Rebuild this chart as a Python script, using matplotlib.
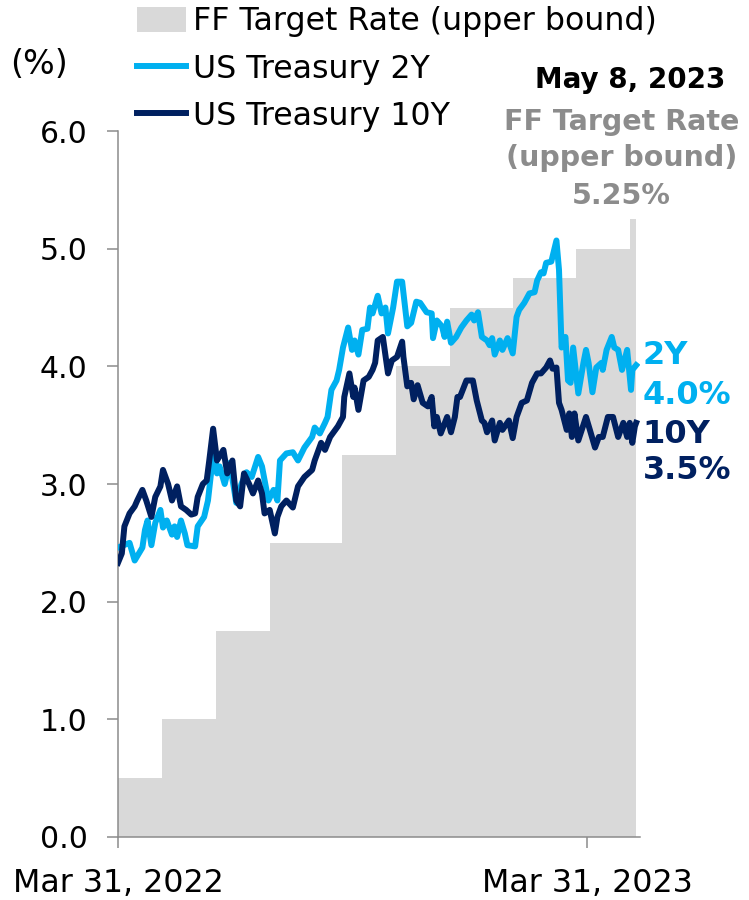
import numpy as np
import pandas as pd
import matplotlib
matplotlib.use("Agg")
import matplotlib.pyplot as plt
from matplotlib.patches import Patch
from matplotlib.lines import Line2D

plt.rcParams['font.family'] = ['DejaVu Sans']

# FF target rate (upper bound), step changes at FOMC decisions
ff_dates = ['2022-03-31', '2022-05-04', '2022-06-15', '2022-07-27', '2022-09-21',
            '2022-11-02', '2022-12-14', '2023-02-01', '2023-03-22', '2023-05-03',
            '2023-05-08']
ff_rate = [0.50, 1.00, 1.75, 2.50, 3.25, 4.00, 4.50, 4.75, 5.00, 5.25, 5.25]

# US Treasury 2Y yield (%)
dates_2y = ['2022-03-31', '2022-04-09', '2022-04-13', '2022-04-19', '2022-04-21',
            '2022-04-23', '2022-04-26', '2022-04-29', '2022-05-03', '2022-05-05',
            '2022-05-08', '2022-05-12', '2022-05-14', '2022-05-16', '2022-05-19',
            '2022-05-22', '2022-05-24', '2022-05-30', '2022-06-01', '2022-06-06',
            '2022-06-09', '2022-06-12', '2022-06-14', '2022-06-16', '2022-06-18',
            '2022-06-22', '2022-06-26', '2022-07-01', '2022-07-05', '2022-07-09',
            '2022-07-13', '2022-07-18', '2022-07-21', '2022-07-26', '2022-07-30',
            '2022-08-02', '2022-08-04', '2022-08-09', '2022-08-14', '2022-08-18',
            '2022-08-23', '2022-08-29', '2022-08-31', '2022-09-04', '2022-09-08',
            '2022-09-10', '2022-09-13', '2022-09-17', '2022-09-19', '2022-09-22',
            '2022-09-26', '2022-09-29', '2022-10-01', '2022-10-04', '2022-10-07',
            '2022-10-11', '2022-10-13', '2022-10-15', '2022-10-19', '2022-10-22',
            '2022-10-25', '2022-10-27', '2022-10-31', '2022-11-03', '2022-11-07',
            '2022-11-11', '2022-11-14', '2022-11-18', '2022-11-21', '2022-11-26',
            '2022-11-30', '2022-12-01', '2022-12-04', '2022-12-08', '2022-12-10',
            '2022-12-12', '2022-12-15', '2022-12-19', '2022-12-23', '2022-12-27',
            '2022-12-31', '2023-01-02', '2023-01-05', '2023-01-08', '2023-01-12',
            '2023-01-14', '2023-01-16', '2023-01-18', '2023-01-22', '2023-01-24',
            '2023-01-28', '2023-02-01', '2023-02-04', '2023-02-06', '2023-02-10',
            '2023-02-14', '2023-02-18', '2023-02-20', '2023-02-23', '2023-02-25',
            '2023-02-27', '2023-03-03', '2023-03-07', '2023-03-09', '2023-03-11',
            '2023-03-14', '2023-03-16', '2023-03-18', '2023-03-20', '2023-03-24',
            '2023-03-28', '2023-03-30', '2023-04-01', '2023-04-04', '2023-04-07',
            '2023-04-11', '2023-04-12', '2023-04-15', '2023-04-19', '2023-04-21',
            '2023-04-24', '2023-04-27', '2023-05-01', '2023-05-04', '2023-05-05',
            '2023-05-08']
yield_2y = [2.46, 2.50, 2.35, 2.46, 2.61, 2.69, 2.48, 2.67, 2.78, 2.63,
            2.69, 2.57, 2.64, 2.55, 2.69, 2.58, 2.48, 2.47, 2.64, 2.72,
            2.86, 3.15, 3.29, 3.09, 3.15, 3.00, 3.18, 2.84, 3.00, 3.10,
            3.06, 3.23, 3.15, 2.86, 2.95, 2.86, 3.20, 3.26, 3.27, 3.20,
            3.31, 3.40, 3.48, 3.43, 3.52, 3.57, 3.80, 3.88, 3.97, 4.16,
            4.33, 4.14, 4.22, 4.10, 4.31, 4.32, 4.50, 4.45, 4.60, 4.45,
            4.50, 4.28, 4.50, 4.72, 4.72, 4.34, 4.37, 4.55, 4.54, 4.46,
            4.45, 4.24, 4.39, 4.34, 4.25, 4.38, 4.20, 4.25, 4.33, 4.39,
            4.44, 4.39, 4.46, 4.25, 4.22, 4.18, 4.24, 4.10, 4.22, 4.14,
            4.24, 4.11, 4.42, 4.48, 4.54, 4.62, 4.63, 4.73, 4.80, 4.79,
            4.88, 4.89, 5.07, 4.82, 4.16, 4.25, 3.88, 3.86, 4.16, 3.77,
            4.03, 4.14, 4.03, 3.78, 3.99, 4.03, 3.97, 4.14, 4.25, 4.16,
            4.14, 3.97, 4.14, 3.80, 3.97, 4.01]

# US Treasury 10Y yield (%)
dates_10y = ['2022-03-31', '2022-04-03', '2022-04-05', '2022-04-09', '2022-04-13',
             '2022-04-15', '2022-04-19', '2022-04-22', '2022-04-26', '2022-04-29',
             '2022-05-03', '2022-05-05', '2022-05-09', '2022-05-12', '2022-05-16',
             '2022-05-19', '2022-05-23', '2022-05-27', '2022-05-30', '2022-06-01',
             '2022-06-05', '2022-06-08', '2022-06-10', '2022-06-13', '2022-06-16',
             '2022-06-21', '2022-06-24', '2022-06-28', '2022-07-01', '2022-07-04',
             '2022-07-07', '2022-07-11', '2022-07-14', '2022-07-18', '2022-07-21',
             '2022-07-23', '2022-07-27', '2022-07-31', '2022-08-02', '2022-08-05',
             '2022-08-09', '2022-08-14', '2022-08-18', '2022-08-23', '2022-08-29',
             '2022-08-31', '2022-09-05', '2022-09-08', '2022-09-12', '2022-09-18',
             '2022-09-22', '2022-09-23', '2022-09-27', '2022-09-30', '2022-10-01',
             '2022-10-04', '2022-10-08', '2022-10-12', '2022-10-15', '2022-10-17',
             '2022-10-19', '2022-10-23', '2022-10-27', '2022-10-30', '2022-11-03',
             '2022-11-07', '2022-11-08', '2022-11-11', '2022-11-14', '2022-11-16',
             '2022-11-19', '2022-11-23', '2022-11-27', '2022-11-30', '2022-12-02',
             '2022-12-04', '2022-12-07', '2022-12-12', '2022-12-15', '2022-12-18',
             '2022-12-20', '2022-12-22', '2022-12-27', '2023-01-01', '2023-01-04',
             '2023-01-08', '2023-01-10', '2023-01-12', '2023-01-16', '2023-01-18',
             '2023-01-22', '2023-01-24', '2023-01-29', '2023-02-01', '2023-02-04',
             '2023-02-08', '2023-02-12', '2023-02-16', '2023-02-20', '2023-02-23',
             '2023-02-27', '2023-03-02', '2023-03-04', '2023-03-07', '2023-03-09',
             '2023-03-11', '2023-03-15', '2023-03-17', '2023-03-19', '2023-03-21',
             '2023-03-24', '2023-03-30', '2023-04-02', '2023-04-06', '2023-04-09',
             '2023-04-12', '2023-04-16', '2023-04-20', '2023-04-24', '2023-04-28',
             '2023-05-01', '2023-05-03', '2023-05-05', '2023-05-07', '2023-05-08']
yield_10y = [2.33, 2.41, 2.64, 2.75, 2.81, 2.86, 2.95, 2.86, 2.72, 2.89,
             2.98, 3.12, 3.00, 2.86, 2.98, 2.81, 2.78, 2.74, 2.75, 2.89,
             3.00, 3.03, 3.20, 3.47, 3.20, 3.29, 3.09, 3.20, 2.86, 2.81,
             3.09, 3.00, 2.92, 3.03, 2.92, 2.75, 2.78, 2.58, 2.72, 2.81,
             2.86, 2.80, 2.98, 3.06, 3.12, 3.20, 3.35, 3.29, 3.40, 3.49,
             3.57, 3.74, 3.94, 3.74, 3.82, 3.63, 3.88, 3.91, 3.97, 4.03,
             4.22, 4.25, 3.94, 4.05, 4.08, 4.21, 4.08, 3.83, 3.86, 3.72,
             3.84, 3.69, 3.66, 3.74, 3.49, 3.57, 3.43, 3.57, 3.44, 3.57,
             3.74, 3.74, 3.88, 3.88, 3.71, 3.54, 3.52, 3.44, 3.54, 3.37,
             3.52, 3.46, 3.54, 3.39, 3.57, 3.69, 3.71, 3.86, 3.94, 3.94,
             3.99, 4.05, 3.98, 3.99, 3.69, 3.63, 3.46, 3.60, 3.40, 3.60,
             3.37, 3.57, 3.46, 3.31, 3.40, 3.40, 3.57, 3.57, 3.40, 3.52,
             3.40, 3.52, 3.35, 3.49, 3.52]

C_FF = '#D9D9D9'
C_2Y = '#00B0F0'
C_10Y = '#002060'
C_GREY_TXT = '#8C8C8C'
C_AXIS = '#8C8C8C'
LW = 4.3

fig = plt.figure(figsize=(7.49, 9.0), dpi=100)
ax = fig.add_axes([0.1575, 0.07, 0.697, 0.7844])

ax.fill_between(pd.to_datetime(ff_dates), ff_rate, step='post',
                color=C_FF, linewidth=0, zorder=1)
ax.plot(pd.to_datetime(dates_2y), yield_2y, color=C_2Y, lw=LW, zorder=3,
        solid_joinstyle='round')
ax.plot(pd.to_datetime(dates_10y), yield_10y, color=C_10Y, lw=LW, zorder=4,
        solid_joinstyle='round')

ax.set_ylim(0, 6)
ax.set_yticks(np.arange(0, 6.1, 1.0))
ax.set_yticklabels([f"{v:.1f}" for v in np.arange(0, 6.1, 1.0)])
ax.set_xlim(pd.Timestamp('2022-03-31'), pd.Timestamp('2023-05-11'))
ax.set_xticks([pd.Timestamp('2022-03-31'), pd.Timestamp('2023-03-31')])
ax.set_xticklabels(['Mar 31, 2022', 'Mar 31, 2023'])

for s in ['top', 'right']:
    ax.spines[s].set_visible(False)
for s in ['left', 'bottom']:
    ax.spines[s].set_color(C_AXIS)
    ax.spines[s].set_linewidth(1.1)
ax.tick_params(axis='both', colors=C_AXIS, length=8, width=1.1,
               labelcolor='black')
ax.tick_params(axis='y', pad=14, labelsize=21.5)
ax.tick_params(axis='x', pad=14, labelsize=22.8)

# legend
handles = [Patch(facecolor=C_FF, edgecolor='none'),
           Line2D([], [], color=C_2Y, lw=LW),
           Line2D([], [], color=C_10Y, lw=LW)]
labels = ['FF Target Rate (upper bound)', 'US Treasury 2Y', 'US Treasury 10Y']
fig.legend(handles, labels, loc='upper left', bbox_to_anchor=(0.183, 0.993),
           frameon=False, fontsize=22.8, handlelength=1.55, handleheight=0.85,
           handletextpad=0.22, labelspacing=0.52, borderpad=0, borderaxespad=0)

fig.text(0.014, 0.928, '(%)', fontsize=24, va='center', ha='left')

# annotations on the right
cx = 0.83
fig.text(cx + 0.012, 0.911, 'May 8, 2023', fontsize=20, fontweight='bold',
         color='black', ha='center', va='center')
fig.text(cx, 0.864, 'FF Target Rate', fontsize=20.5, fontweight='bold',
         color=C_GREY_TXT, ha='center', va='center')
fig.text(cx, 0.824, '(upper bound)', fontsize=20.5, fontweight='bold',
         color=C_GREY_TXT, ha='center', va='center')
fig.text(cx, 0.782, '5.25%', fontsize=20.5, fontweight='bold',
         color=C_GREY_TXT, ha='center', va='center')

lx = 0.858
fig.text(lx, 0.605, '2Y', fontsize=23, fontweight='bold', color=C_2Y,
         ha='left', va='center')
fig.text(lx, 0.561, '4.0%', fontsize=23, fontweight='bold', color=C_2Y,
         ha='left', va='center')
fig.text(lx, 0.517, '10Y', fontsize=23, fontweight='bold', color=C_10Y,
         ha='left', va='center')
fig.text(lx, 0.477, '3.5%', fontsize=23, fontweight='bold', color=C_10Y,
         ha='left', va='center')

fig.savefig('out.png', dpi=100)
